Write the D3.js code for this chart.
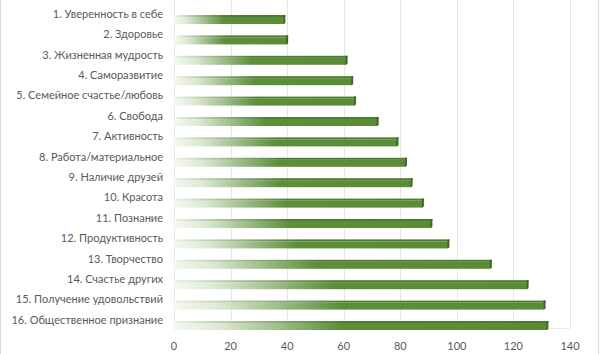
<!DOCTYPE html>
<html>
<head>
<meta charset="utf-8">
<script src="https://cdn.jsdelivr.net/npm/d3@7"></script>
<style>
  body { margin: 0; background: #fff; }
  text { font-family: Lato, "Open Sans", sans-serif; fill: #595959; }
</style>
</head>
<body>
<div id="chart"></div>
<script>
const categories = [
  "1. Уверенность в себе",
  "2. Здоровье",
  "3. Жизненная мудрость",
  "4. Саморазвитие",
  "5. Семейное счастье/любовь",
  "6. Свобода",
  "7. Активность",
  "8. Работа/материальное",
  "9. Наличие друзей",
  "10. Красота",
  "11. Познание",
  "12. Продуктивность",
  "13. Творчество",
  "14. Счастье других",
  "15. Получение удовольствий",
  "16. Общественное признание"
];
const values = [39, 40, 61, 63, 64, 72, 79, 82, 84, 88, 91, 97, 112, 125, 131, 132];
const xTicks = [0, 20, 40, 60, 80, 100, 120, 140];

const width = 600, height = 354;

const svg = d3.select("#chart")
    .append("svg")
    .attr("width", width)
    .attr("height", height);

// chart border (left / right only visible)
svg.append("line").attr("x1", 0.5).attr("x2", 0.5).attr("y1", 0).attr("y2", height)
    .attr("stroke", "#d9d9d9");
svg.append("line").attr("x1", 598.5).attr("x2", 598.5).attr("y1", 0).attr("y2", height)
    .attr("stroke", "#d9d9d9");

const xScale = d3.scaleLinear()
    .domain([0, 140])
    .range([174, 570]);

// label centres of each category
const yScale = d3.scalePoint()
    .domain(categories)
    .range([14, 320]);

const plotBottom = 328;

// gradient for bar front
const defs = svg.append("defs");
const grad = defs.append("linearGradient")
    .attr("id", "barGrad")
    .attr("x1", "0%").attr("x2", "100%")
    .attr("y1", "0%").attr("y2", "0%");
grad.append("stop").attr("offset", "0%").attr("stop-color", "#f4f8f1");
grad.append("stop").attr("offset", "12%").attr("stop-color", "#dde9d4");
grad.append("stop").attr("offset", "45%").attr("stop-color", "#5b8f3a");
grad.append("stop").attr("offset", "100%").attr("stop-color", "#5a8c38");

const gradTop = defs.append("linearGradient")
    .attr("id", "barTop")
    .attr("x1", "0%").attr("x2", "100%")
    .attr("y1", "0%").attr("y2", "0%");
gradTop.append("stop").attr("offset", "0%").attr("stop-color", "#e8f0e2");
gradTop.append("stop").attr("offset", "45%").attr("stop-color", "#4f7c31");
gradTop.append("stop").attr("offset", "100%").attr("stop-color", "#4c7a2e");

// gridlines
svg.append("g")
    .selectAll("line")
    .data(xTicks)
    .enter()
    .append("line")
    .attr("x1", d => Math.round(xScale(d)) + 0.5)
    .attr("x2", d => Math.round(xScale(d)) + 0.5)
    .attr("y1", 0)
    .attr("y2", plotBottom)
    .attr("stroke", "#e6e6e6");

// floor line
svg.append("line")
    .attr("x1", xScale(0)).attr("x2", xScale(140))
    .attr("y1", plotBottom + 0.5).attr("y2", plotBottom + 0.5)
    .attr("stroke", "#ececec");

// bars
const bars = svg.append("g")
    .selectAll("g")
    .data(categories)
    .enter()
    .append("g")
    .attr("transform", d => `translate(0,${yScale(d) + 1})`);

bars.append("rect")
    .attr("x", xScale(0))
    .attr("y", 2)
    .attr("width", (d, i) => xScale(values[i]) - xScale(0))
    .attr("height", 7)
    .attr("fill", "url(#barGrad)");

bars.append("rect")
    .attr("x", xScale(0) + 2)
    .attr("y", 0)
    .attr("width", (d, i) => xScale(values[i]) - xScale(0) - 1)
    .attr("height", 2)
    .attr("fill", "url(#barTop)");

// end caps
bars.append("path")
    .attr("d", (d, i) => {
      const x = xScale(values[i]);
      return `M${x - 1},0 L${x + 1},0 L${x + 1},8 L${x - 1},9 Z`;
    })
    .attr("fill", "#3f6825");

// category labels
svg.append("g")
    .selectAll("text")
    .data(categories)
    .enter()
    .append("text")
    .attr("x", 163)
    .attr("y", d => yScale(d))
    .attr("dy", "0.35em")
    .attr("text-anchor", "end")
    .attr("font-size", "11px")
    .text(d => d);

// x tick labels
svg.append("g")
    .selectAll("text")
    .data(xTicks)
    .enter()
    .append("text")
    .attr("x", d => xScale(d))
    .attr("y", 346)
    .attr("dy", "0.35em")
    .attr("text-anchor", "middle")
    .attr("font-size", "11px")
    .text(d => d);
</script>
</body>
</html>
